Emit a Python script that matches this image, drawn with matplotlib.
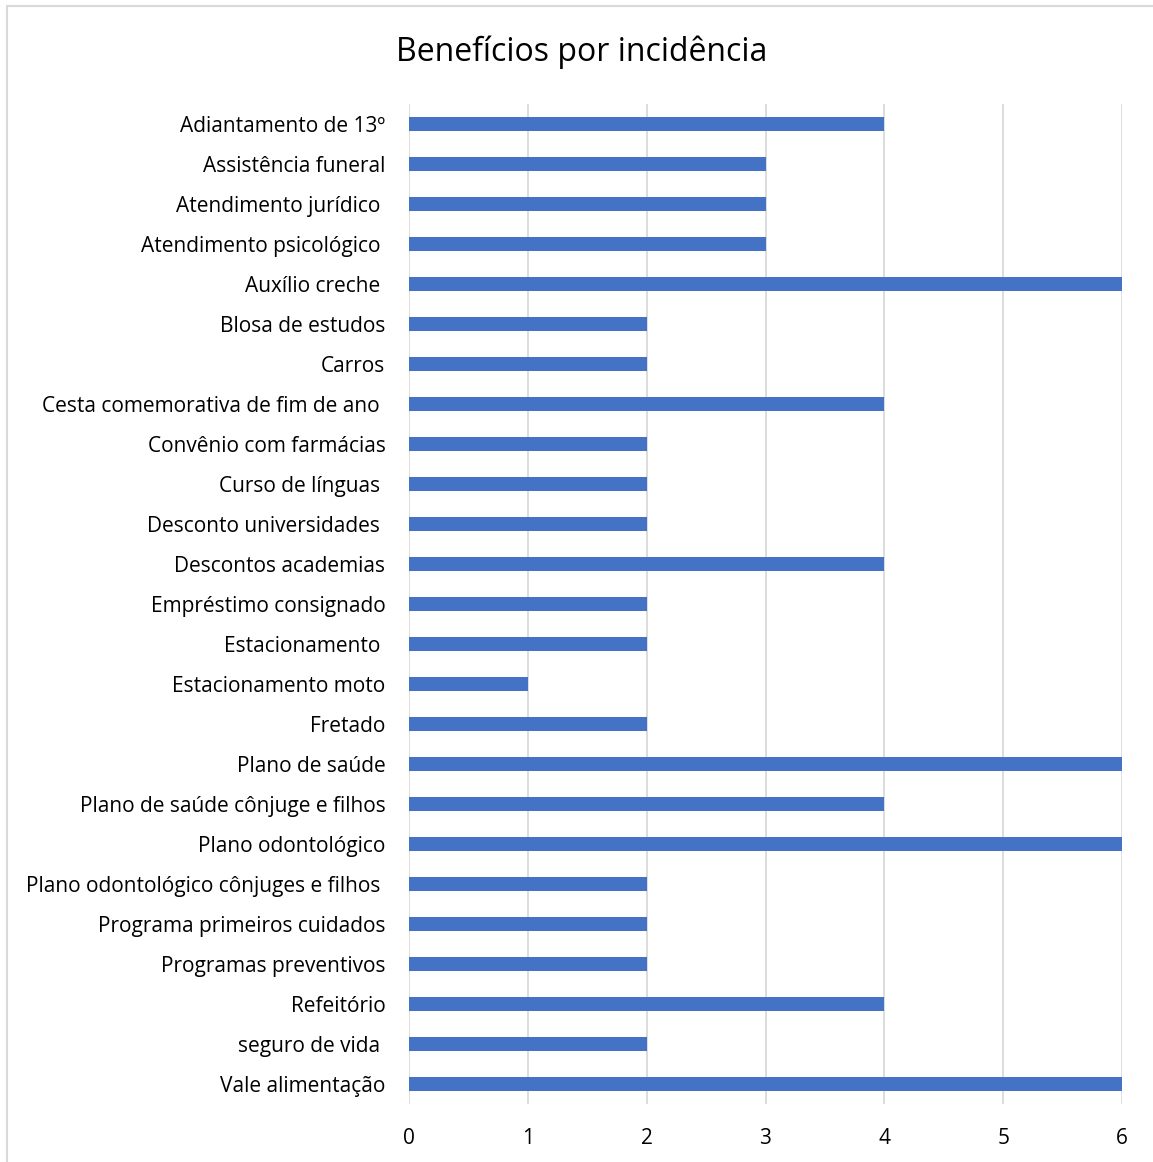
import matplotlib.pyplot as plt
from matplotlib.patches import Rectangle

categorias = [
    "Adiantamento de 13º", "Assistência funeral", "Atendimento jurídico ",
    "Atendimento psicológico ", "Auxílio creche ", "Blosa de estudos", "Carros",
    "Cesta comemorativa de fim de ano ", "Convênio com farmácias", "Curso de línguas ",
    "Desconto universidades ", "Descontos academias", "Empréstimo consignado",
    "Estacionamento ", "Estacionamento moto", "Fretado", "Plano de saúde",
    "Plano de saúde cônjuge e filhos", "Plano odontológico",
    "Plano odontológico cônjuges e filhos ", "Programa primeiros cuidados",
    "Programas preventivos", "Refeitório", "seguro de vida ", "Vale alimentação",
]
valores = [4, 3, 3, 3, 6, 2, 2, 4, 2, 2, 2, 4, 2, 2, 1, 2, 6, 4, 6, 2, 2, 2, 4, 2, 6]
ticks_x = [0, 1, 2, 3, 4, 5, 6]

plt.rcParams['font.family'] = ['Open Sans', 'DejaVu Sans']

W, H = 1153, 1162
fig = plt.figure(figsize=(W / 100, H / 100), dpi=100)
ax = fig.add_axes([409 / W, 1 - 1104 / H, (1122 - 409) / W, 1000 / H])

pos = list(range(len(categorias)))
ax.barh(pos, valores, height=0.35, color='#4472C4', zorder=3)
ax.set_ylim(len(categorias) - 0.5, -0.5)
ax.set_xlim(0, 6)
ax.set_yticks(pos)
ax.set_yticklabels(categorias, fontsize=15, color='#000000')
ax.set_xticks(ticks_x)
ax.set_xticklabels([str(t) for t in ticks_x], fontsize=15)
ax.tick_params(axis='y', length=0, pad=17)
ax.tick_params(axis='x', length=0, pad=17)
ax.grid(axis='x', color='#D9D9D9', linewidth=1.3, zorder=0)
for s in ax.spines.values():
    s.set_visible(False)

fig.text(582 / W, 1 - 52 / H, "Benefícios por incidência", ha='center', va='center', fontsize=23)

fig.patches.append(Rectangle((6.5 / W, -0.1), 1.2, 1 - 5.5 / H + 0.1, transform=fig.transFigure,
                             fill=False, edgecolor='#D9D9D9', linewidth=1.5))

fig.savefig('out.png', dpi=100)
